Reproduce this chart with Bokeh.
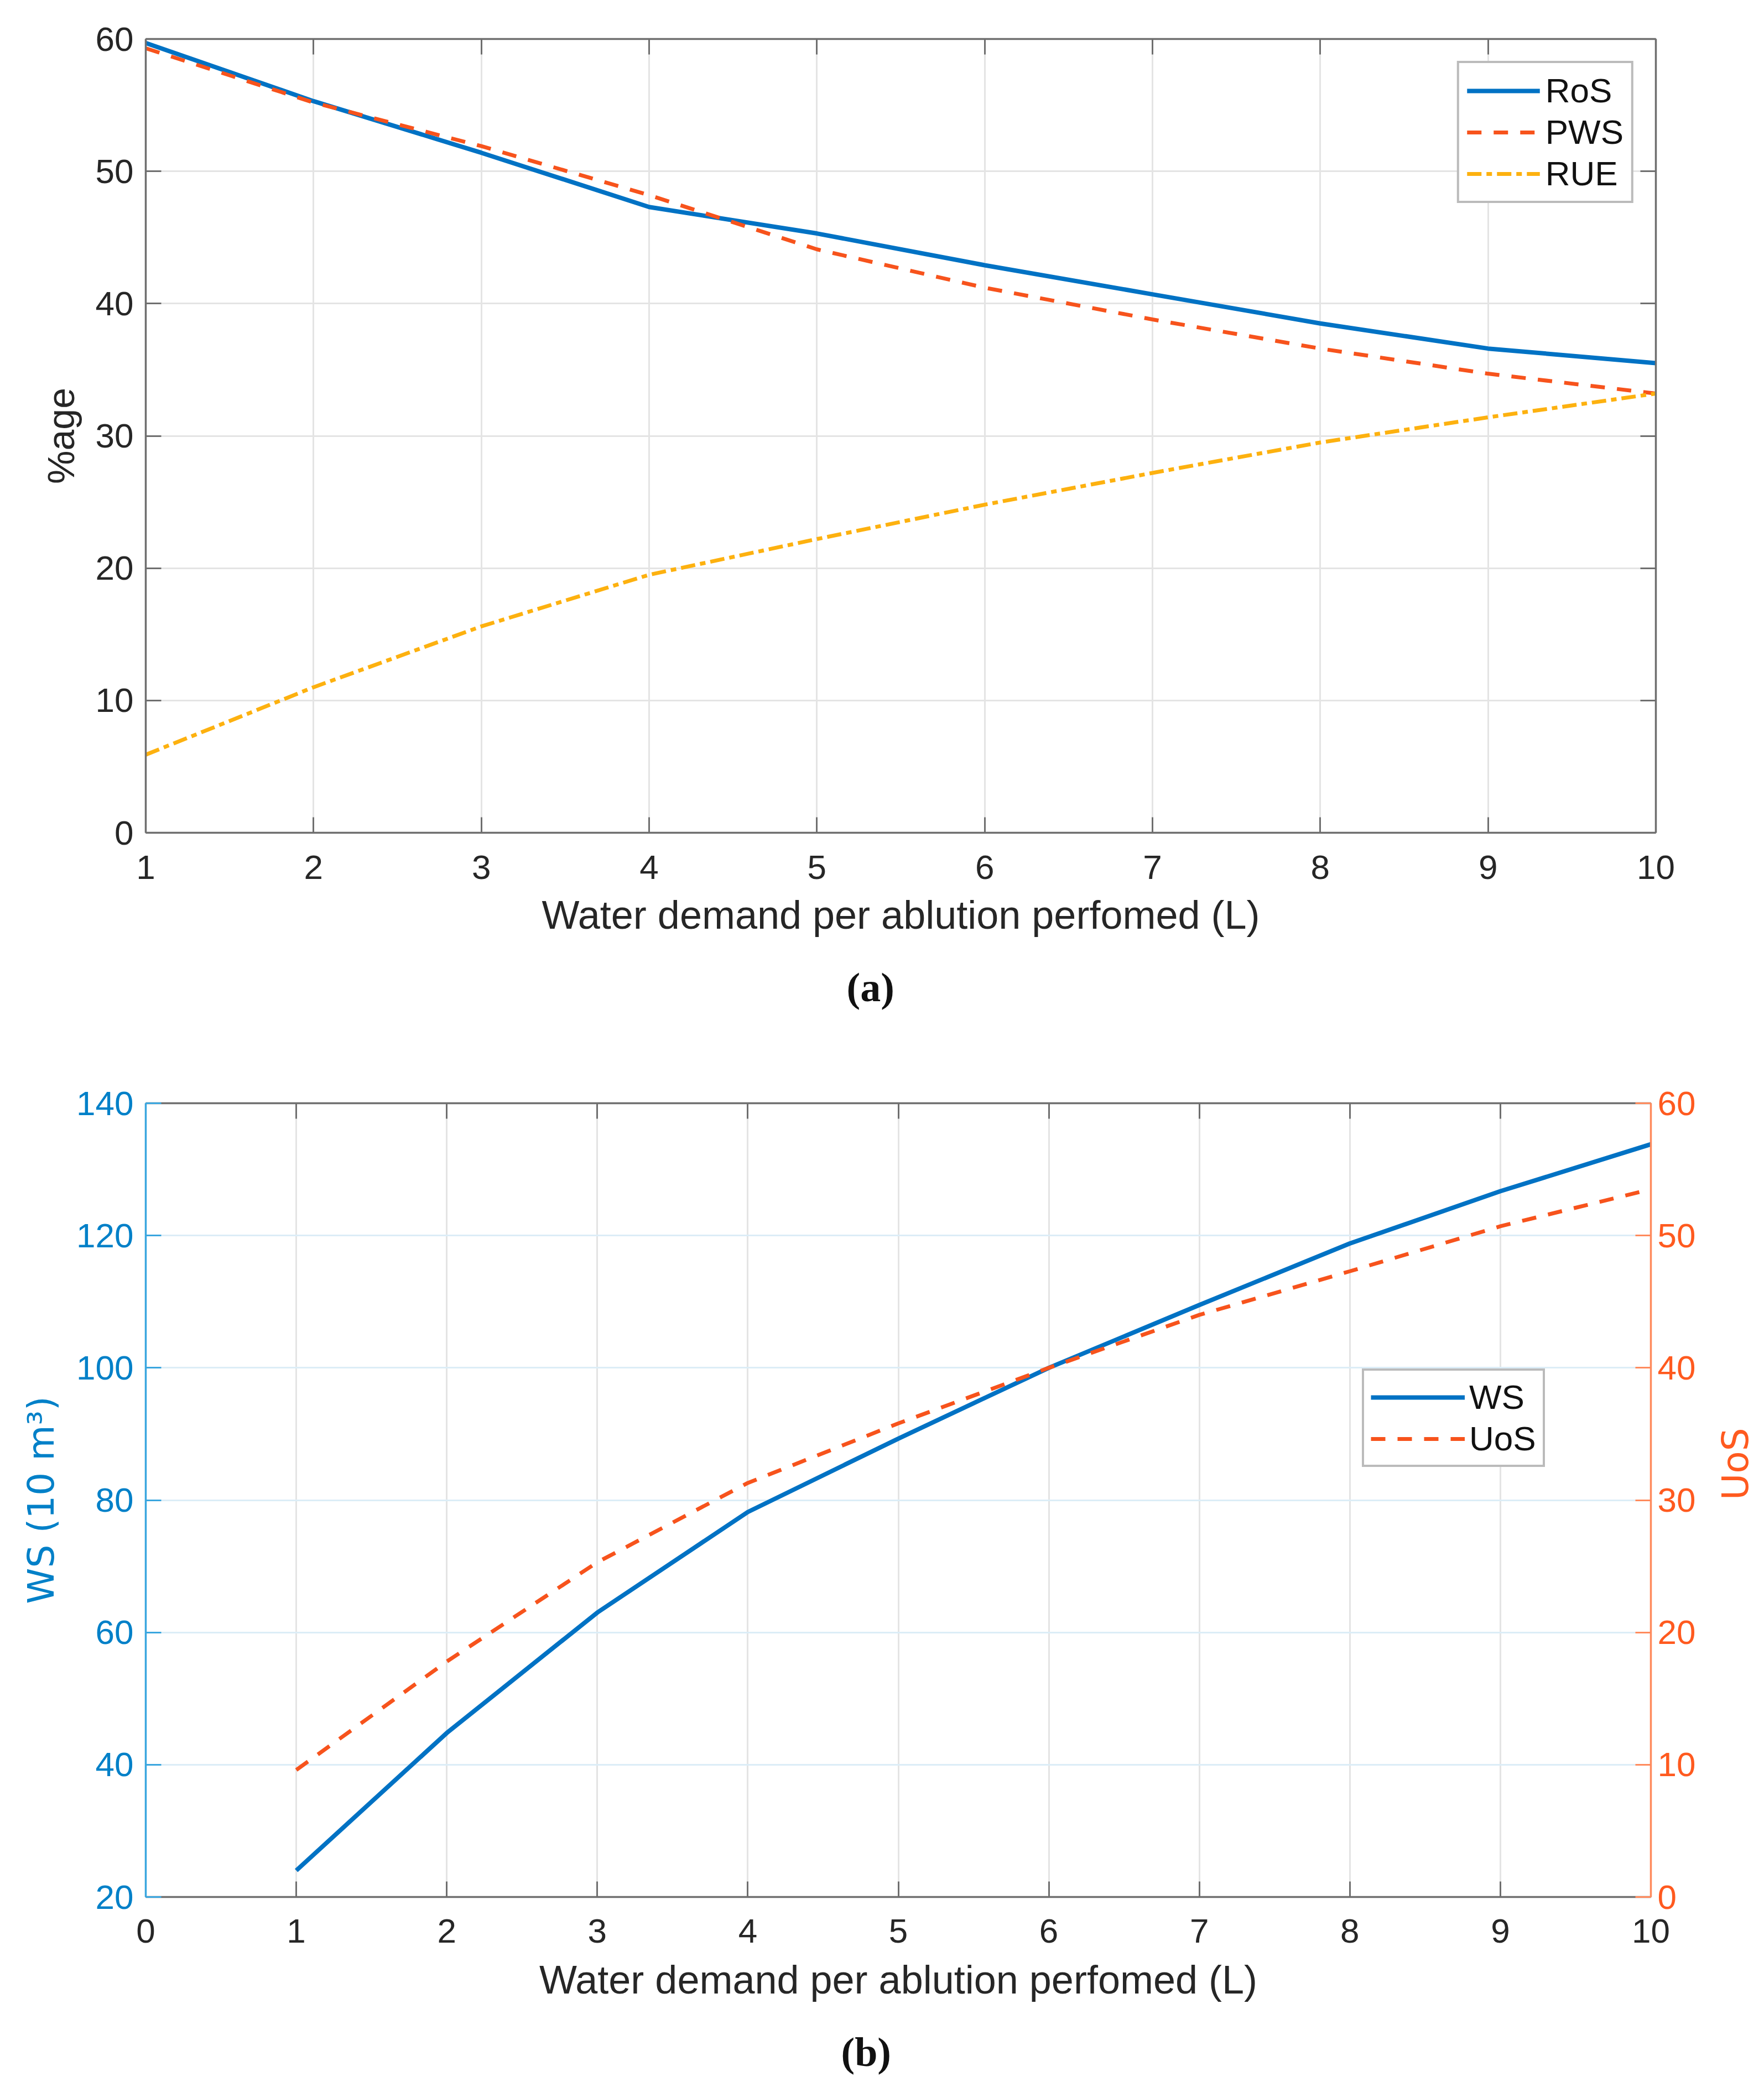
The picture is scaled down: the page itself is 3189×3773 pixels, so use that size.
import math
from bokeh.plotting import figure
from bokeh.layouts import column
from bokeh.models import (LinearAxis, Range1d, FixedTicker, Legend, LegendItem, Title,
                          CustomLabelingPolicy)
from bokeh.embed import file_html
from bokeh.resources import INLINE

# data
demand = [1, 2, 3, 4, 5, 6, 7, 8, 9, 10]
ros = [59.7, 55.3, 51.4, 47.3, 45.3, 42.9, 40.7, 38.5, 36.6, 35.5]
pws = [59.3, 55.2, 51.9, 48.2, 44.1, 41.2, 38.8, 36.6, 34.7, 33.2]
rue = [5.9, 11.0, 15.6, 19.5, 22.2, 24.8, 27.2, 29.5, 31.4, 33.2]

ws = [24.0, 44.8, 63.0, 78.2, 89.3, 100.0, 109.5, 118.8, 126.7, 133.8]
uos = [9.6, 17.8, 25.3, 31.3, 35.8, 40.0, 44.0, 47.3, 50.7, 53.5]

x_ticks_a = list(range(1, 11))
y_ticks_a = list(range(0, 61, 10))
x_ticks_b = list(range(0, 11))
y_ticks_ws = list(range(20, 141, 20))
y_ticks_uos = list(range(0, 61, 10))

BLUE = "#0072C4"
RED = "#F7531C"
YELLOW = "#FDB10F"
FONT = "Liberation Sans"
AX_GRAY = "#6f6f6f"

# drops every label: used for the plain box axes (top / right)
NO_LABELS = "const all = [...indices]; for (const i of all) indices.unset(i); return indices"


def style_axis(ax, line_color, label_color, show_labels=True):
    ax.axis_line_color = line_color
    ax.axis_line_width = 3.5
    ax.major_tick_line_color = line_color
    ax.major_tick_line_width = 3
    ax.major_tick_in = 28
    ax.major_tick_out = 0
    ax.minor_tick_line_color = None
    ax.major_label_text_font = FONT
    ax.major_label_text_color = label_color
    if show_labels:
        ax.major_label_text_font_size = "62px"
    else:
        ax.major_label_text_font_size = "1px"
        ax.major_label_standoff = 0
        ax.major_label_policy = CustomLabelingPolicy(code=NO_LABELS)
    ax.axis_label_text_font = FONT
    ax.axis_label_text_font_style = "normal"
    ax.axis_label_text_color = label_color


# ---------- (a) ----------
p1 = figure(frame_width=2730, frame_height=1435, x_range=Range1d(1, 10), y_range=Range1d(0, 60),
            output_backend="svg", toolbar_location=None, tools="",
            min_border_left=249, min_border_right=190, min_border_top=70, min_border_bottom=362)
p1.outline_line_color = None

p1.xaxis.ticker = FixedTicker(ticks=x_ticks_a)
p1.yaxis.ticker = FixedTicker(ticks=y_ticks_a)
style_axis(p1.xaxis[0], AX_GRAY, "#262626")
style_axis(p1.yaxis[0], AX_GRAY, "#262626")
p1.xaxis.major_label_standoff = 41
p1.yaxis.major_label_standoff = 22
p1.xaxis.axis_label = "Water demand per ablution perfomed (L)"
p1.xaxis.axis_label_text_font_size = "72px"
p1.xaxis.axis_label_standoff = 22
p1.yaxis.axis_label = "%age"
p1.yaxis.axis_label_text_font_size = "68px"
p1.yaxis.axis_label_standoff = 22

top1 = LinearAxis(ticker=FixedTicker(ticks=x_ticks_a))
style_axis(top1, AX_GRAY, "#262626", show_labels=False)
p1.add_layout(top1, "above")
right1 = LinearAxis(ticker=FixedTicker(ticks=y_ticks_a))
style_axis(right1, AX_GRAY, "#262626", show_labels=False)
p1.add_layout(right1, "right")

p1.xgrid.ticker = FixedTicker(ticks=x_ticks_a)
p1.ygrid.ticker = FixedTicker(ticks=y_ticks_a)
p1.grid.grid_line_color = "#e4e4e4"
p1.grid.grid_line_width = 3

r_ros = p1.line(demand, ros, line_color=BLUE, line_width=8)
r_pws = p1.line(demand, pws, line_color=RED, line_width=7, line_dash="26 22")
r_rue = p1.line(demand, rue, line_color=YELLOW, line_width=7, line_dash="26 9 10 9")

leg1 = Legend(items=[LegendItem(label="RoS", renderers=[r_ros]),
                     LegendItem(label="PWS", renderers=[r_pws]),
                     LegendItem(label="RUE", renderers=[r_rue])],
              location="top_right", margin=40, padding=14, spacing=4,
              glyph_width=132, glyph_height=68, label_height=68, label_standoff=10,
              label_text_font=FONT, label_text_font_size="62px", label_text_color="#111111",
              border_line_color="#777777", border_line_width=4, background_fill_alpha=1)
p1.add_layout(leg1, "center")

# panel caption, centred on the page rather than on the frame
p1.add_layout(Title(text="(a)", align="left", offset=1267, text_font="Liberation Serif",
                    text_font_size="74px", text_font_style="bold", text_color="#111111",
                    standoff=91), "below")

# ---------- (b) ----------
p2 = figure(frame_width=2721, frame_height=1435, x_range=Range1d(0, 10), y_range=Range1d(20, 140),
            output_backend="svg", toolbar_location=None, tools="",
            min_border_left=263, min_border_right=190, min_border_top=123, min_border_bottom=330)
p2.outline_line_color = None
p2.extra_y_ranges = {"uos": Range1d(0, 60)}

p2.xaxis.ticker = FixedTicker(ticks=x_ticks_b)
p2.yaxis.ticker = FixedTicker(ticks=y_ticks_ws)
style_axis(p2.xaxis[0], AX_GRAY, "#262626")
style_axis(p2.yaxis[0], "#3aa6df", "#0080C8")
p2.xaxis.major_label_standoff = 40
p2.yaxis.major_label_standoff = 22
p2.xaxis.axis_label = "Water demand per ablution perfomed (L)"
p2.xaxis.axis_label_text_font_size = "72px"
p2.xaxis.axis_label_standoff = 24
p2.yaxis.axis_label = "WS (10 m³)"
p2.yaxis.axis_label_text_font = "DejaVu Sans"
p2.yaxis.axis_label_text_font_size = "66px"
p2.yaxis.axis_label_standoff = 22

right2 = LinearAxis(y_range_name="uos", ticker=FixedTicker(ticks=y_ticks_uos),
                    axis_label="UoS")
style_axis(right2, "#ff8a5c", "#FF5A1F")
right2.major_label_standoff = 12
right2.axis_label_text_font = "DejaVu Sans"
right2.axis_label_text_font_size = "66px"
right2.axis_label_standoff = 69
try:
    right2.axis_label_orientation = math.pi / 2
except AttributeError:
    pass
p2.add_layout(right2, "right")

top2 = LinearAxis(ticker=FixedTicker(ticks=x_ticks_b))
style_axis(top2, AX_GRAY, "#262626", show_labels=False)
p2.add_layout(top2, "above")

p2.xgrid.ticker = FixedTicker(ticks=x_ticks_b)
p2.ygrid.ticker = FixedTicker(ticks=y_ticks_ws)
p2.xgrid.grid_line_color = "#e4e4e4"
p2.ygrid.grid_line_color = "#dcedf7"
p2.grid.grid_line_width = 3

r_ws = p2.line(demand, ws, line_color=BLUE, line_width=8)
r_uos = p2.line(demand, uos, line_color=RED, line_width=7, line_dash="26 22",
                y_range_name="uos")

leg2 = Legend(items=[LegendItem(label="WS", renderers=[r_ws]),
                     LegendItem(label="UoS", renderers=[r_uos])],
              location=(2199, 777), padding=12, spacing=4,
              glyph_width=170, glyph_height=66, label_height=66, label_standoff=8,
              label_text_font=FONT, label_text_font_size="62px", label_text_color="#111111",
              border_line_color="#777777", border_line_width=4, background_fill_alpha=1)
p2.add_layout(leg2, "center")

p2.add_layout(Title(text="(b)", align="left", offset=1257, text_font="Liberation Serif",
                    text_font_size="74px", text_font_style="bold", text_color="#111111",
                    standoff=90), "below")

layout = column(p1, p2, spacing=0)
open("out.html", "w").write(file_html(layout, INLINE))
